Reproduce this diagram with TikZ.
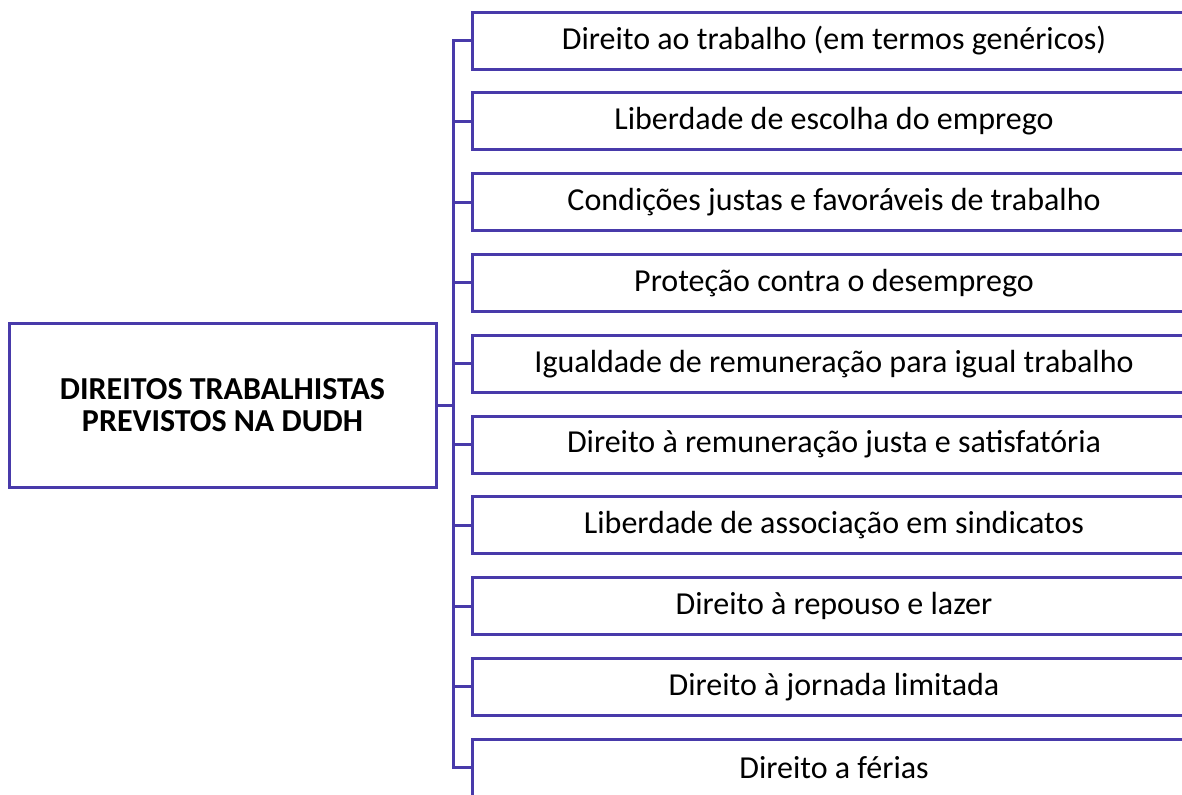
\documentclass[tikz,border=0pt]{standalone}
\usepackage{fontspec}
\setmainfont{Carlito}
\usetikzlibrary{positioning}

\definecolor{lineblue}{RGB}{72,58,170}

\tikzset{
  item/.style={draw=lineblue, line width=2.25pt, outer sep=0pt,
    minimum width=543pt, minimum height=42.75pt, inner sep=0pt,
    font=\fontsize{24}{29}\selectfont},
  topic/.style={draw=lineblue, line width=2.25pt, outer sep=0pt,
    minimum width=320.25pt, minimum height=123pt, align=center,
    font=\fontsize{24}{24}\selectfont\bfseries},
  link/.style={draw=lineblue, line width=2.25pt},
}

\begin{document}
\begin{tikzpicture}[x=0.75pt, y=-0.75pt, node distance=17.85pt]

  \useasboundingbox (0,0) rectangle (1182,794);
  \clip (0,0) rectangle (1182,794);

  \node (root) [topic] at (222.5,405) {DIREITOS TRABALHISTAS\\PREVISTOS NA DUDH};
  \coordinate (bus) at (453,405);

  \node (r1) [item] at (834,40.5) {Direito ao trabalho (em termos genéricos)};
  \node (r2) [item, below=of r1] {Liberdade de escolha do emprego};
  \node (r3) [item, below=of r2] {Condições justas e favoráveis de trabalho};
  \node (r4) [item, below=of r3] {Proteção contra o desemprego};
  \node (r5) [item, below=of r4] {Igualdade de remuneração para igual trabalho};
  \node (r6) [item, below=of r5] {Direito à remuneração justa e satisfatória};
  \node (r7) [item, below=of r6] {Liberdade de associação em sindicatos};
  \node (r8) [item, below=of r7] {Direito à repouso e lazer};
  \node (r9) [item, below=of r8] {Direito à jornada limitada};
  \node (r10) [item, below=of r9] {Direito a férias};

  \draw [link] (root.east) -- (bus);
  \draw [link] (r1.west) -| (bus);
  \draw [link] (r2.west) -| (bus);
  \draw [link] (r3.west) -| (bus);
  \draw [link] (r4.west) -| (bus);
  \draw [link] (r5.west) -| (bus);
  \draw [link] (r6.west) -| (bus);
  \draw [link] (r7.west) -| (bus);
  \draw [link] (r8.west) -| (bus);
  \draw [link] (r9.west) -| (bus);
  \draw [link] (r10.west) -| (bus);

\end{tikzpicture}
\end{document}
